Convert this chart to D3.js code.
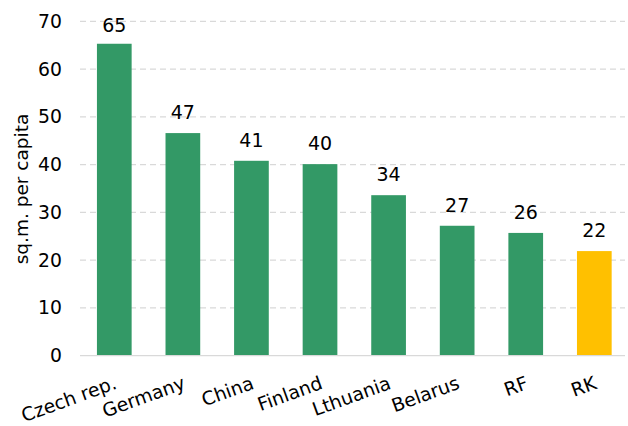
<!DOCTYPE html>
<html><head><meta charset="utf-8">
<script src="https://cdn.jsdelivr.net/npm/d3@7"></script>
<style>body{margin:0;background:#fff}svg{display:block}</style>
</head><body>
<svg id="c" width="628" height="426"></svg>
<script>
const categories = ["Czech rep.","Germany","China","Finland","Lthuania","Belarus","RF","RK"];
const values = [65.3, 46.6, 40.8, 40.1, 33.6, 27.2, 25.7, 21.9];
const highlight = ["RK"];
const yTicks = [0,10,20,30,40,50,60,70];
const yTitle = "sq.m. per capita";

(function(){
const svg = d3.select("#c");
const font = "'DejaVu Sans', Verdana, sans-serif";
const mLeft = 80, mRight = 628.6, mTop = 21.3, mBottom = 355.7;

const x = d3.scaleBand().domain(categories).range([mLeft, mRight]).paddingInner(0.494).paddingOuter(0.247);
const y = d3.scaleLinear().domain([0,70]).range([mBottom, mTop]);

// gridlines
svg.append("g").selectAll("line").data(yTicks.filter(d=>d>0)).join("line")
  .attr("x1", mLeft).attr("x2", 625).attr("y1", d=>y(d)).attr("y2", d=>y(d))
  .attr("stroke", "#d9d9d9").attr("stroke-width", 1.3).attr("stroke-dasharray", "6,4");

// y axis labels
const ya = svg.append("g").attr("transform", `translate(${mLeft},0)`)
  .call(d3.axisLeft(y).tickValues(yTicks).tickSize(0).tickPadding(18));
ya.select(".domain").remove();
ya.selectAll("text").attr("font-family", font).attr("font-size", 18.8).attr("fill", "#000");

// bars
svg.append("g").selectAll("rect").data(categories).join("rect")
  .attr("x", d=>x(d)).attr("width", x.bandwidth())
  .attr("y", (d,i)=>y(values[i])).attr("height", (d,i)=>y(0)-y(values[i]))
  .attr("fill", d=>highlight.includes(d) ? "#ffc000" : "#339966");

// baseline
svg.append("line").attr("x1", mLeft).attr("x2", 625).attr("y1", y(0)).attr("y2", y(0))
  .attr("stroke", "#d9d9d9").attr("stroke-width", 1.3);

// value labels
svg.append("g").selectAll("text").data(categories).join("text")
  .attr("x", d=>x(d)+x.bandwidth()/2).attr("y", (d,i)=>Math.max(32, y(values[i])-14))
  .attr("text-anchor", "middle").attr("font-family", font).attr("font-size", 19)
  .attr("fill", "#000").text((d,i)=>Math.round(values[i]));

// x labels
svg.append("g").selectAll("text").data(categories).join("text")
  .attr("transform", d=>`translate(${x(d)+x.bandwidth()/2-1},${mBottom+20}) rotate(-20)`)
  .attr("text-anchor", "end").attr("dy", "0.71em")
  .attr("font-family", font).attr("font-size", 18.8).attr("fill", "#000").text(d=>d);

// y title
svg.append("text").attr("transform", `translate(28,189) rotate(-90)`)
  .attr("text-anchor", "middle").attr("font-family", font).attr("font-size", 18.5)
  .attr("fill", "#000").text(yTitle);
})();
</script>
</body></html>
